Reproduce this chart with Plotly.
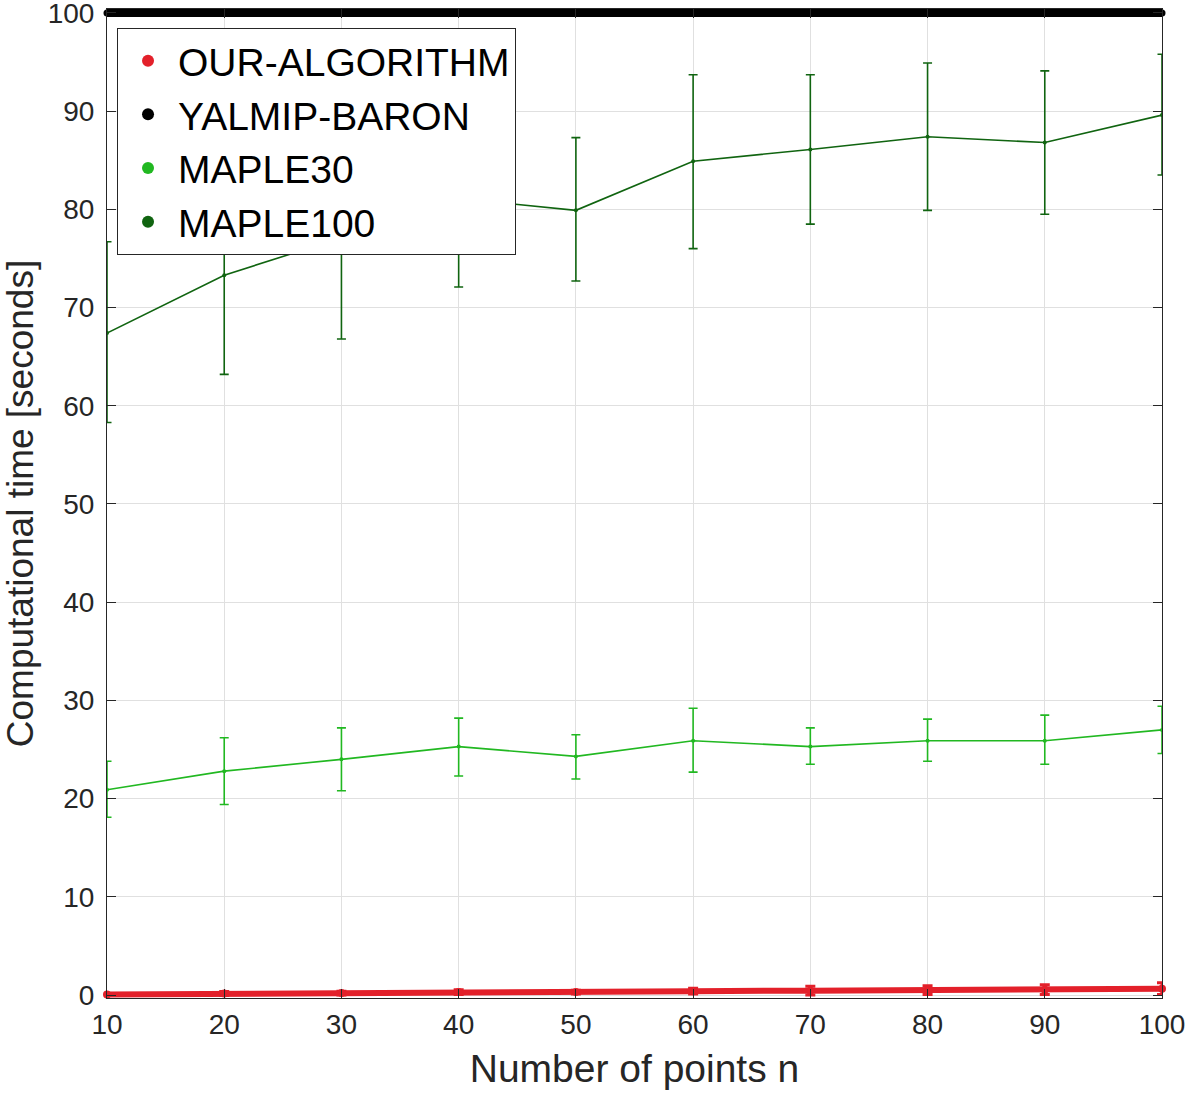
import plotly.graph_objects as go

# Number of points
n = [10, 20, 30, 40, 50, 60, 70, 80, 90, 100]

# Mean computational time [s] and error bars (upper / lower) per method
our_alg = [0.05, 0.15, 0.2, 0.3, 0.3, 0.4, 0.45, 0.5, 0.55, 0.65]
our_alg_err = [0.1, 0.2, 0.2, 0.25, 0.2, 0.3, 0.45, 0.45, 0.5, 0.6]

yalmip_baron = [100, 100, 100, 100, 100, 100, 100, 100, 100, 100]

maple30 = [20.9, 22.8, 24.0, 25.3, 24.3, 25.9, 25.3, 25.9, 25.9, 27.0]
maple30_up = [2.9, 3.4, 3.2, 2.9, 2.2, 3.3, 1.9, 2.2, 2.6, 2.4]
maple30_down = [2.8, 3.4, 3.2, 3.0, 2.3, 3.2, 1.8, 2.1, 2.4, 2.4]

maple100 = [67.4, 73.3, 77.1, 81.1, 79.9, 84.9, 86.1, 87.4, 86.8, 89.6]
maple100_up = [9.3, 10.1, 10.3, 9.0, 7.4, 8.8, 7.6, 7.5, 7.3, 6.2]
maple100_down = [9.1, 10.1, 10.3, 9.0, 7.2, 8.9, 7.6, 7.5, 7.3, 6.1]

names = ['OUR-ALGORITHM', 'YALMIP-BARON', 'MAPLE30', 'MAPLE100']
colors = ['#e3202a', '#000000', '#21b821', '#106410']

fig = go.Figure()

fig.add_trace(go.Scatter(
    x=n, y=maple100, mode='lines+markers', showlegend=False,
    line=dict(color=colors[3], width=1.6), marker=dict(size=4, color=colors[3]),
    error_y=dict(type='data', array=maple100_up, arrayminus=maple100_down,
                 color=colors[3], thickness=1.6, width=4.5)))

fig.add_trace(go.Scatter(
    x=n, y=maple30, mode='lines+markers', showlegend=False,
    line=dict(color=colors[2], width=1.6), marker=dict(size=4, color=colors[2]),
    error_y=dict(type='data', array=maple30_up, arrayminus=maple30_down,
                 color=colors[2], thickness=1.6, width=4.5)))

fig.add_trace(go.Scatter(
    x=n, y=our_alg, mode='lines+markers', showlegend=False, cliponaxis=False,
    line=dict(color=colors[0], width=6), marker=dict(size=8, color=colors[0]),
    error_y=dict(type='data', array=our_alg_err, color=colors[0],
                 thickness=3, width=5)))

fig.add_trace(go.Scatter(
    x=n, y=yalmip_baron, mode='lines+markers', showlegend=False, cliponaxis=False,
    line=dict(color=colors[1], width=8), marker=dict(size=7, color=colors[1])))

# legend entries (dots only)
for name, c in zip(names, colors):
    fig.add_trace(go.Scatter(x=[None], y=[None], mode='markers', name=name,
                             marker=dict(size=9, color=c)))

axis_style = dict(
    showline=True, linecolor='#262626', linewidth=1, mirror='ticks',
    ticks='inside', ticklen=9, tickcolor='#262626',
    showgrid=True, gridcolor='#e0e0e0', gridwidth=1,
    zeroline=False, tickfont=dict(size=28, color='#262626'),
    ticklabeloverflow='allow', automargin=False,
)

fig.update_layout(
    width=1195, height=1095,
    margin=dict(l=107, r=33, t=9, b=97),
    paper_bgcolor='white', plot_bgcolor='white',
    font=dict(family='Liberation Sans, Arial, sans-serif', color='#262626'),
    xaxis=dict(range=[10, 100], tickvals=n, ticklabelstandoff=1,
               title=dict(text='Number of points n', font=dict(size=39), standoff=16),
               **axis_style),
    yaxis=dict(range=[-0.3, 100.4], tickvals=list(range(0, 101, 10)), ticklabelstandoff=6,
               title=dict(text='Computational time [seconds]', font=dict(size=37), standoff=4),
               **axis_style),
    legend=dict(x=0.0095, y=0.981, xanchor='left', yanchor='top',
                bgcolor='white', bordercolor='#262626', borderwidth=1,
                font=dict(size=39, color='#000000'), itemsizing='constant',
                itemwidth=50, tracegroupgap=0),
)

fig.write_html("out.html", config={'displayModeBar': False},
               post_script="document.body.style.margin='0';")
